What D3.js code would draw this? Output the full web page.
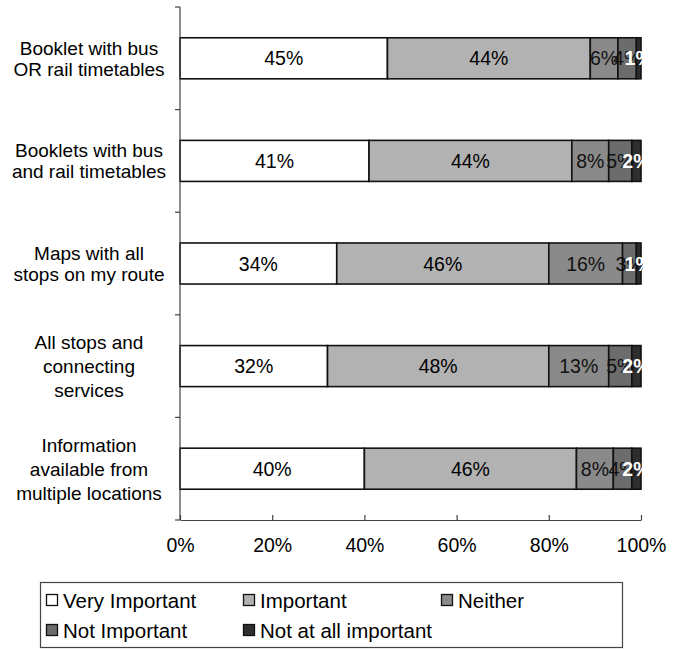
<!DOCTYPE html>
<html><head><meta charset="utf-8">
<script src="https://cdn.jsdelivr.net/npm/d3@7"></script>
<style>body{margin:0;background:#fff}svg{display:block;font-family:"Liberation Sans",Arial,sans-serif}</style>
</head><body><svg id="c" width="680" height="651"></svg>
<script>
const categories = [
  ["Booklet with bus","OR rail timetables"],
  ["Booklets with bus","and rail timetables"],
  ["Maps with all","stops on my route"],
  ["All stops and","connecting","services"],
  ["Information","available from","multiple locations"]
];
const seriesNames = ["Very Important","Important","Neither","Not Important","Not at all important"];
const veryImportant = [45,41,34,32,40];
const important = [44,44,46,48,46];
const neither = [6,8,16,13,8];
const notImportant = [4,5,3,5,4];
const notAtAll = [1,2,1,2,2];
const tickLabels = ["0%","20%","40%","60%","80%","100%"];
const colors = ["#ffffff","#b2b2b2","#8a8a8a","#6c6c6c","#2e2e2e"];
const labelColors = ["#000","#000","#111","#111","#fff"];

const series = [veryImportant, important, neither, notImportant, notAtAll];
const svg = d3.select("#c");
const x = d3.scaleLinear().domain([0,100]).range([180,641]);
const y = d3.scaleBand().domain(d3.range(categories.length)).range([7,520]).paddingInner(0.6).paddingOuter(0.3);

const rows = categories.map((c,i)=>{
  let acc=0;
  return series.map((s,k)=>{const v=s[i];const seg={i,k,x0:acc,x1:acc+v,v};acc+=v;return seg;});
});

const g = svg.append("g");
rows.forEach(row=>{
  row.forEach(seg=>{
    g.append("rect").attr("x",x(seg.x0)).attr("y",y(seg.i)).attr("width",x(seg.x1)-x(seg.x0)).attr("height",y.bandwidth())
      .attr("fill",colors[seg.k]).attr("stroke","#111").attr("stroke-width",1.6);
  });
});
rows.forEach(row=>{
  row.forEach(seg=>{
    g.append("text").attr("x",(x(seg.x0)+x(seg.x1))/2).attr("y",y(seg.i)+y.bandwidth()/2+7)
      .attr("text-anchor","middle").attr("font-size",19.5).attr("fill",labelColors[seg.k])
      .attr("font-weight",seg.k===4?"bold":"normal")
      .text(seg.v+"%");
  });
});

// y axis line and category ticks
const step = (520-7)/categories.length;
svg.append("line").attr("x1",180).attr("x2",180).attr("y1",7).attr("y2",520).attr("stroke","#444").attr("stroke-width",1.2);
d3.range(categories.length+1).forEach(j=>{
  svg.append("line").attr("x1",175).attr("x2",180).attr("y1",7+j*step).attr("y2",7+j*step).attr("stroke","#444").attr("stroke-width",1.2);
});
// x axis
const xAxis = d3.axisBottom(x).tickValues([0,20,40,60,80,100]).tickFormat((d,i)=>tickLabels[i]).tickSize(5).tickSizeOuter(0);
const xg = svg.append("g").attr("transform","translate(0,520)").call(xAxis);
xg.select(".domain").attr("stroke","#444").attr("stroke-width",1.2);
xg.selectAll(".tick line").attr("stroke","#444").attr("stroke-width",1.2).attr("y1",-5).attr("y2",0);
xg.selectAll(".tick text").attr("font-size",19.5).attr("fill","#000").attr("y",18).attr("font-family","Liberation Sans, Arial, sans-serif");

// category labels
categories.forEach((lines,i)=>{
  const cy = y(i)+y.bandwidth()/2;
  const lh = lines.length===3?24:21;
  const t = svg.append("text").attr("text-anchor","middle").attr("font-size",19).attr("fill","#000");
  lines.forEach((l,j)=>{
    t.append("tspan").attr("x",89).attr("y",cy - (lines.length-1)*lh/2 + j*lh + 7).text(l);
  });
});

// legend
svg.append("rect").attr("x",40.5).attr("y",582.5).attr("width",582).attr("height",65).attr("fill","#fff").attr("stroke","#444").attr("stroke-width",1.2);
const legPos = [[46,600],[243,600],[441,600],[46,630],[243,630]];
seriesNames.forEach((n,k)=>{
  const [lx,ly]=legPos[k];
  svg.append("rect").attr("x",lx+0.5).attr("y",ly-5.5).attr("width",11).attr("height",11).attr("fill",colors[k]).attr("stroke","#111").attr("stroke-width",1.3);
  svg.append("text").attr("x",lx+17).attr("y",ly+7.5).attr("font-size",20.5).attr("fill","#000").text(n);
});
</script></body></html>
